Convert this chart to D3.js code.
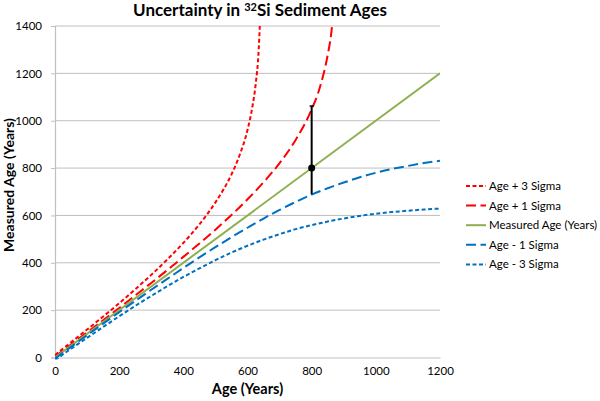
<!DOCTYPE html>
<html>
<head>
<meta charset="utf-8">
<script src="https://cdn.jsdelivr.net/npm/d3@7"></script>
<style>
  body { margin: 0; background: #fff; }
  svg text { font-family: Lato, "Open Sans", sans-serif; }
</style>
</head>
<body>
<svg id="chart" width="600" height="401"></svg>
<script>
// true age (x) values
const agesPlus3 = [0, 50, 100, 150, 200, 250, 300, 350, 400, 450, 500, 525, 550, 575, 600, 615, 625, 635, 640];
const plus3Sigma = [11, 64, 118, 173, 229, 288, 349, 414, 484, 562, 655, 709, 773, 853, 961, 1057, 1149, 1303, 1453];

const agesPlus1 = [0, 50, 100, 150, 200, 250, 300, 350, 400, 450, 500, 550, 600, 650, 700, 750, 800, 825, 850, 860, 870];
const plus1Sigma = [4, 55, 106, 157, 209, 262, 315, 369, 425, 481, 540, 602, 668, 740, 821, 919, 1048, 1138, 1278, 1358, 1490];

const agesFull = [0, 50, 100, 150, 200, 250, 300, 350, 400, 450, 500, 550, 600, 650, 700, 750, 800, 850, 900, 950, 1000, 1050, 1100, 1150, 1200];
const measuredAge = [0, 1200];
const measuredX = [0, 1200];
const minus1Sigma = [-4, 45, 94, 143, 191, 239, 286, 332, 378, 423, 466, 508, 548, 587, 623, 657, 688, 715, 739, 761, 780, 796, 809, 821, 831];
const minus3Sigma = [-11, 37, 83, 129, 174, 218, 260, 301, 340, 376, 411, 443, 472, 498, 521, 542, 559, 574, 587, 598, 607, 614, 620, 625, 629];

const errorBar = { x: 800, y: 800, low: 690, high: 1062 };

const xTicks = [0, 200, 400, 600, 800, 1000, 1200];
const yTicks = [0, 200, 400, 600, 800, 1000, 1200, 1400];

const seriesNames = ['Age + 3 Sigma', 'Age + 1 Sigma', 'Measured Age (Years)', 'Age - 1 Sigma', 'Age - 3 Sigma'];

const red = '#ff0000', blue = '#0070c0', green = '#8faf4f';

const series = [
  { name: seriesNames[0], xs: agesPlus3, ys: plus3Sigma, color: red, dash: '4,2.5', width: 2 },
  { name: seriesNames[1], xs: agesPlus1, ys: plus1Sigma, color: red, dash: '10,4.5', width: 2 },
  { name: seriesNames[2], xs: measuredX, ys: measuredAge, color: green, dash: null, width: 2 },
  { name: seriesNames[3], xs: agesFull, ys: minus1Sigma, color: blue, dash: '10,4.5', width: 2 },
  { name: seriesNames[4], xs: agesFull, ys: minus3Sigma, color: blue, dash: '4,2.5', width: 2 }
];

const svg = d3.select('#chart');

const x = d3.scaleLinear().domain([0, 1200]).range([55, 440]);
const y = d3.scaleLinear().domain([0, 1400]).range([357.5, 26]);

svg.append('defs').append('clipPath').attr('id', 'plotClip')
  .append('rect')
  .attr('x', x(0)).attr('y', y(1400))
  .attr('width', x(1200) - x(0)).attr('height', y(0) - y(1400) + 2);

// gridlines
svg.append('g')
  .selectAll('line')
  .data(yTicks.filter(d => d > 0))
  .enter()
  .append('line')
  .attr('x1', x(0)).attr('x2', x(1200))
  .attr('y1', d => y(d)).attr('y2', d => y(d))
  .style('stroke', '#bfbfbf')
  .style('stroke-width', 1);

// axes
const xAxis = svg.append('g')
  .attr('transform', 'translate(0,' + y(0) + ')')
  .call(d3.axisBottom(x).tickValues(xTicks).tickFormat(d3.format('d')).tickSize(0).tickPadding(9));
const yAxis = svg.append('g')
  .attr('transform', 'translate(' + x(0) + ',0)')
  .call(d3.axisLeft(y).tickValues(yTicks).tickFormat(d3.format('d')).tickSize(4).tickPadding(9));
[xAxis, yAxis].forEach(function (g) {
  g.select('.domain').style('stroke', '#bfbfbf').style('stroke-width', 1.2);
  g.selectAll('.tick line').style('stroke', '#bfbfbf');
  g.selectAll('text').style('font-size', '11.5px').style('fill', '#000').style('font-family', 'Lato, sans-serif');
});

// series
const line = d3.line()
  .x(function (d) { return x(d[0]); })
  .y(function (d) { return y(d[1]); })
  .curve(d3.curveMonotoneX);

const plot = svg.append('g').attr('clip-path', 'url(#plotClip)');
series.forEach(function (s) {
  plot.append('path')
    .datum(s.xs.map(function (v, i) { return [v, s.ys[i]]; }))
    .attr('d', line)
    .style('fill', 'none')
    .style('stroke', s.color)
    .style('stroke-width', s.width)
    .style('stroke-dasharray', s.dash);
});

// error bar
svg.append('line')
  .attr('x1', x(errorBar.x)).attr('x2', x(errorBar.x))
  .attr('y1', y(errorBar.low)).attr('y2', y(errorBar.high))
  .style('stroke', '#000').style('stroke-width', 2);
svg.append('line')
  .attr('x1', x(errorBar.x) - 2).attr('x2', x(errorBar.x) + 2)
  .attr('y1', y(errorBar.high)).attr('y2', y(errorBar.high))
  .style('stroke', '#000').style('stroke-width', 1.5);
svg.append('circle')
  .attr('cx', x(errorBar.x)).attr('cy', y(errorBar.y))
  .attr('r', 3.5).style('fill', '#000');

// title
const title = svg.append('text')
  .attr('x', 260).attr('y', 16)
  .attr('text-anchor', 'middle')
  .style('font-size', '17px').style('font-weight', 'bold');
title.append('tspan').text('Uncertainty in ');
title.append('tspan').text('32').style('font-size', '11px').attr('dy', -5);
title.append('tspan').text('Si Sediment Ages').attr('dy', 5);

// axis titles
svg.append('text')
  .attr('x', x(600)).attr('y', 394)
  .attr('text-anchor', 'middle')
  .style('font-size', '14.5px').style('font-weight', 'bold')
  .text('Age (Years)');
svg.append('text')
  .attr('transform', 'translate(14,185) rotate(-90)')
  .attr('text-anchor', 'middle')
  .style('font-size', '14px').style('font-weight', 'bold')
  .text('Measured Age (Years)');

// legend
const legend = svg.append('g').attr('transform', 'translate(466,186)');
series.forEach(function (s, i) {
  const row = legend.append('g').attr('transform', 'translate(0,' + (i * 19.6) + ')');
  row.append('line')
    .attr('x1', 0).attr('x2', 20).attr('y1', 0).attr('y2', 0)
    .style('stroke', s.color).style('stroke-width', 2)
    .style('stroke-dasharray', s.dash);
  row.append('text')
    .attr('x', 23).attr('y', 4)
    .style('font-size', '11.5px')
    .text(s.name);
});
</script>
</body>
</html>
